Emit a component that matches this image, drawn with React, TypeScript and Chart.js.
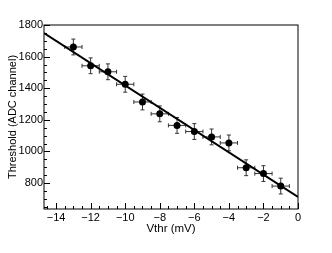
import React, { useEffect, useRef } from "react";
import { Chart, registerables } from "chart.js";

Chart.register(...registerables);

// Data
const vthr = [-13, -12, -11, -10, -9, -8, -7, -6, -5, -4, -3, -2, -1];
const threshold = [1661, 1542, 1504, 1425, 1313, 1238, 1165, 1126, 1092, 1054, 897, 860, 781];
const xErr = [0.5, 0.5, 0.5, 0.5, 0.5, 0.5, 0.5, 0.5, 0.5, 0.5, 0.5, 0.5, 0.5];
const yErr = [50, 50, 50, 50, 50, 50, 50, 50, 50, 50, 50, 50, 50];
const fitLineX = [-14.7, 0];
const fitLineY = [1749, 712];
const xTicks = [-14, -12, -10, -8, -6, -4, -2, 0];
const yTicks = [800, 1000, 1200, 1400, 1600, 1800];
const xMinorStep = 0.5;
const yMinorStep = 50;
const xRange = [-14.7, 0];
const yRange = [636, 1800];

const FONT = "'Liberation Sans', Arial, Helvetica, sans-serif";

const rootPlugin = {
  id: "rootStyle",
  beforeDatasetsDraw(chart: any) {
    const ctx = chart.ctx;
    const xs = chart.scales.x;
    const ys = chart.scales.y;
    ctx.save();
    ctx.strokeStyle = "#333";
    ctx.lineWidth = 1;
    const cap = 2;
    for (let i = 0; i < vthr.length; i++) {
      const px = xs.getPixelForValue(vthr[i]);
      const py = ys.getPixelForValue(threshold[i]);
      const x0 = xs.getPixelForValue(vthr[i] - xErr[i]);
      const x1 = xs.getPixelForValue(vthr[i] + xErr[i]);
      const y0 = ys.getPixelForValue(threshold[i] - yErr[i]);
      const y1 = ys.getPixelForValue(threshold[i] + yErr[i]);
      ctx.beginPath();
      ctx.moveTo(x0, py); ctx.lineTo(x1, py);
      ctx.moveTo(px, y0); ctx.lineTo(px, y1);
      ctx.moveTo(x0, py - cap); ctx.lineTo(x0, py + cap);
      ctx.moveTo(x1, py - cap); ctx.lineTo(x1, py + cap);
      ctx.moveTo(px - cap, y0); ctx.lineTo(px + cap, y0);
      ctx.moveTo(px - cap, y1); ctx.lineTo(px + cap, y1);
      ctx.stroke();
    }
    ctx.restore();
  },
  afterDraw(chart: any) {
    const ctx = chart.ctx;
    const a = chart.chartArea;
    const xs = chart.scales.x;
    const ys = chart.scales.y;
    ctx.save();
    ctx.strokeStyle = "#000";
    ctx.lineWidth = 1;
    ctx.strokeRect(Math.round(a.left), Math.round(a.top), Math.round(a.right - a.left), Math.round(a.bottom - a.top));
    ctx.beginPath();
    const xStart = Math.ceil(xRange[0] / xMinorStep) * xMinorStep;
    for (let v = xStart; v <= xRange[1] + 1e-9; v += xMinorStep) {
      const major = xTicks.some((t) => Math.abs(t - v) < 1e-6);
      const px = Math.round(xs.getPixelForValue(v)) + 0.5;
      ctx.moveTo(px, a.bottom);
      ctx.lineTo(px, a.bottom - (major ? 6 : 3));
    }
    const yStart = Math.ceil(yRange[0] / yMinorStep) * yMinorStep;
    for (let v = yStart; v <= yRange[1] + 1e-9; v += yMinorStep) {
      const major = yTicks.some((t) => Math.abs(t - v) < 1e-6);
      const py = Math.round(ys.getPixelForValue(v)) + 0.5;
      ctx.moveTo(a.left, py);
      ctx.lineTo(a.left + (major ? 6 : 3), py);
    }
    ctx.stroke();
    ctx.restore();
  },
};

export default function App() {
  const ref = useRef<HTMLCanvasElement | null>(null);
  useEffect(() => {
    if (!ref.current) return;
    const chart = new Chart(ref.current, {
      type: "scatter",
      data: {
        datasets: [
          {
            label: "fit",
            data: fitLineX.map((x, i) => ({ x, y: fitLineY[i] })),
            showLine: true,
            borderColor: "#000",
            borderWidth: 2,
            pointRadius: 0,
            order: 2,
          },
          {
            label: "data",
            data: vthr.map((x, i) => ({ x, y: threshold[i] })),
            backgroundColor: "#000",
            borderColor: "#000",
            pointRadius: 3.5,
            pointBorderWidth: 0,
            order: 1,
          },
        ],
      },
      options: {
        responsive: false,
        animation: false,
        layout: { padding: { top: 25, right: 34, left: 0, bottom: 0 } },
        plugins: { legend: { display: false }, tooltip: { enabled: false } },
        scales: {
          x: {
            type: "linear",
            min: xRange[0],
            max: xRange[1],
            grid: { display: false, drawTicks: false },
            border: { display: false },
            afterBuildTicks: (s: any) => { s.ticks = xTicks.map((v) => ({ value: v })); },
            afterFit: (s: any) => { s.height = 44; },
            ticks: {
              autoSkip: false,
              maxRotation: 0,
              padding: 2,
              color: "#000",
              font: { family: FONT, size: 11 },
              callback: (v: any) => String(v).replace("-", "\u2212"),
            },
            title: {
              display: true,
              text: "Vthr (mV)",
              color: "#000",
              font: { family: FONT, size: 11.5 },
              padding: { top: 0, bottom: 17 },
            },
          },
          y: {
            type: "linear",
            min: yRange[0],
            max: yRange[1],
            grid: { display: false, drawTicks: false },
            border: { display: false },
            afterBuildTicks: (s: any) => { s.ticks = yTicks.map((v) => ({ value: v })); },
            afterFit: (s: any) => { s.width = 44; },
            ticks: {
              autoSkip: false,
              padding: 1,
              color: "#000",
              font: { family: FONT, size: 11 },
              callback: (v: any) => String(v),
            },
            title: {
              display: true,
              text: "Threshold (ADC channel)",
              color: "#000",
              font: { family: FONT, size: 11 },
              padding: { top: 6, bottom: 0 },
            },
          },
        },
      },
      plugins: [rootPlugin],
    });
    return () => chart.destroy();
  }, []);
  return (
    <div style={{ position: "fixed", left: 0, top: 0, width: 332, height: 253, background: "#fff" }}>
      <canvas ref={ref} width={332} height={253} />
    </div>
  );
}
